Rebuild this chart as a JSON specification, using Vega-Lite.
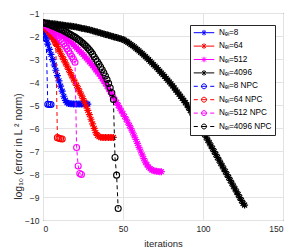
{
"$schema": "https://vega.github.io/schema/vega-lite/v6.json",
"autosize": {"type": "none"},
"width": 240, "height": 207,
"padding": {"left": 43, "top": 13, "right": 16, "bottom": 29},
"background": "white",
"config": {
  "view": {"stroke": "#262626", "strokeWidth": 1},
  "font": "Liberation Sans",
  "axis": {"grid": true, "gridColor": "#e3e3e3", "ticks": false, "domain": false, "labelFontSize": 8.5, "labelColor": "#262626", "labelPadding": 4, "titleFontSize": 9.5, "titleFontWeight": "normal", "titleColor": "#262626", "labelFont": "Liberation Sans", "titleFont": "Liberation Sans"}
},
"data": {"values": [
{"s":"8","it":0,"e":-1.68},{"s":"8","it":1,"e":-1.9},{"s":"8","it":2,"e":-2.12},{"s":"8","it":3,"e":-2.35},{"s":"8","it":4,"e":-2.58},{"s":"8","it":5,"e":-2.8},{"s":"8","it":6,"e":-3.03},{"s":"8","it":7,"e":-3.26},{"s":"8","it":8,"e":-3.49},{"s":"8","it":9,"e":-3.72},{"s":"8","it":10,"e":-3.95},{"s":"8","it":11,"e":-4.18},{"s":"8","it":12,"e":-4.4},{"s":"8","it":13,"e":-4.62},{"s":"8","it":14,"e":-4.8},{"s":"8","it":15,"e":-4.9},{"s":"8","it":16,"e":-4.94},{"s":"8","it":17,"e":-4.95},{"s":"8","it":18,"e":-4.95},{"s":"8","it":19,"e":-4.96},{"s":"8","it":20,"e":-4.96},{"s":"8","it":21,"e":-4.96},{"s":"8","it":22,"e":-4.96},{"s":"8","it":23,"e":-4.96},{"s":"8","it":24,"e":-4.96},{"s":"8","it":25,"e":-4.96},{"s":"8","it":26,"e":-4.96},{"s":"8","it":27,"e":-4.96},{"s":"8","it":28,"e":-4.96},
{"s":"64","it":0,"e":-1.54},{"s":"64","it":1,"e":-1.6},{"s":"64","it":2,"e":-1.67},{"s":"64","it":3,"e":-1.75},{"s":"64","it":4,"e":-1.84},{"s":"64","it":5,"e":-1.93},{"s":"64","it":6,"e":-2.03},{"s":"64","it":7,"e":-2.15},{"s":"64","it":8,"e":-2.3},{"s":"64","it":9,"e":-2.45},{"s":"64","it":10,"e":-2.6},{"s":"64","it":11,"e":-2.75},{"s":"64","it":12,"e":-2.9},{"s":"64","it":13,"e":-3.03},{"s":"64","it":14,"e":-3.17},{"s":"64","it":15,"e":-3.31},{"s":"64","it":16,"e":-3.45},{"s":"64","it":17,"e":-3.59},{"s":"64","it":18,"e":-3.73},{"s":"64","it":19,"e":-3.87},{"s":"64","it":20,"e":-4.01},{"s":"64","it":21,"e":-4.15},{"s":"64","it":22,"e":-4.29},{"s":"64","it":23,"e":-4.43},{"s":"64","it":24,"e":-4.57},{"s":"64","it":25,"e":-4.72},{"s":"64","it":26,"e":-4.88},{"s":"64","it":27,"e":-5.05},{"s":"64","it":28,"e":-5.23},{"s":"64","it":29,"e":-5.42},{"s":"64","it":30,"e":-5.62},{"s":"64","it":31,"e":-5.82},{"s":"64","it":32,"e":-6.02},{"s":"64","it":33,"e":-6.2},{"s":"64","it":34,"e":-6.32},{"s":"64","it":35,"e":-6.38},{"s":"64","it":36,"e":-6.4},{"s":"64","it":37,"e":-6.41},{"s":"64","it":38,"e":-6.41},{"s":"64","it":39,"e":-6.41},{"s":"64","it":40,"e":-6.41},{"s":"64","it":41,"e":-6.41},{"s":"64","it":42,"e":-6.41},{"s":"64","it":43,"e":-6.41},{"s":"64","it":44,"e":-6.41},
{"s":"512","it":0,"e":-1.46},{"s":"512","it":1,"e":-1.49},{"s":"512","it":2,"e":-1.52},{"s":"512","it":3,"e":-1.56},{"s":"512","it":4,"e":-1.6},{"s":"512","it":5,"e":-1.64},{"s":"512","it":6,"e":-1.68},{"s":"512","it":7,"e":-1.72},{"s":"512","it":8,"e":-1.77},{"s":"512","it":9,"e":-1.82},{"s":"512","it":10,"e":-1.87},{"s":"512","it":11,"e":-1.92},{"s":"512","it":12,"e":-1.97},{"s":"512","it":13,"e":-2.02},{"s":"512","it":14,"e":-2.07},{"s":"512","it":15,"e":-2.13},{"s":"512","it":16,"e":-2.19},{"s":"512","it":17,"e":-2.25},{"s":"512","it":18,"e":-2.31},{"s":"512","it":19,"e":-2.38},{"s":"512","it":20,"e":-2.45},{"s":"512","it":21,"e":-2.52},{"s":"512","it":22,"e":-2.59},{"s":"512","it":23,"e":-2.66},{"s":"512","it":24,"e":-2.73},{"s":"512","it":25,"e":-2.8},{"s":"512","it":26,"e":-2.88},{"s":"512","it":27,"e":-2.96},{"s":"512","it":28,"e":-3.04},{"s":"512","it":29,"e":-3.12},{"s":"512","it":30,"e":-3.2},{"s":"512","it":31,"e":-3.29},{"s":"512","it":32,"e":-3.38},{"s":"512","it":33,"e":-3.47},{"s":"512","it":34,"e":-3.56},{"s":"512","it":35,"e":-3.65},{"s":"512","it":36,"e":-3.75},{"s":"512","it":37,"e":-3.85},{"s":"512","it":38,"e":-3.96},{"s":"512","it":39,"e":-4.07},{"s":"512","it":40,"e":-4.18},{"s":"512","it":41,"e":-4.3},{"s":"512","it":42,"e":-4.42},{"s":"512","it":43,"e":-4.54},{"s":"512","it":44,"e":-4.66},{"s":"512","it":45,"e":-4.78},{"s":"512","it":46,"e":-4.9},{"s":"512","it":47,"e":-5.02},{"s":"512","it":48,"e":-5.14},{"s":"512","it":49,"e":-5.26},{"s":"512","it":50,"e":-5.38},{"s":"512","it":51,"e":-5.5},{"s":"512","it":52,"e":-5.62},{"s":"512","it":53,"e":-5.75},{"s":"512","it":54,"e":-5.89},{"s":"512","it":55,"e":-6.03},{"s":"512","it":56,"e":-6.18},{"s":"512","it":57,"e":-6.34},{"s":"512","it":58,"e":-6.5},{"s":"512","it":59,"e":-6.67},{"s":"512","it":60,"e":-6.84},{"s":"512","it":61,"e":-7.0},{"s":"512","it":62,"e":-7.17},{"s":"512","it":63,"e":-7.33},{"s":"512","it":64,"e":-7.48},{"s":"512","it":65,"e":-7.6},{"s":"512","it":66,"e":-7.7},{"s":"512","it":67,"e":-7.77},{"s":"512","it":68,"e":-7.82},{"s":"512","it":69,"e":-7.85},{"s":"512","it":70,"e":-7.87},{"s":"512","it":71,"e":-7.88},{"s":"512","it":72,"e":-7.89},{"s":"512","it":73,"e":-7.9},{"s":"512","it":74,"e":-7.9},
{"s":"4096","it":0,"e":-1.42},{"s":"4096","it":1,"e":-1.43},{"s":"4096","it":2,"e":-1.43},{"s":"4096","it":3,"e":-1.44},{"s":"4096","it":4,"e":-1.45},{"s":"4096","it":5,"e":-1.46},{"s":"4096","it":6,"e":-1.47},{"s":"4096","it":7,"e":-1.47},{"s":"4096","it":8,"e":-1.48},{"s":"4096","it":9,"e":-1.49},{"s":"4096","it":10,"e":-1.5},{"s":"4096","it":11,"e":-1.51},{"s":"4096","it":12,"e":-1.52},{"s":"4096","it":13,"e":-1.53},{"s":"4096","it":14,"e":-1.54},{"s":"4096","it":15,"e":-1.55},{"s":"4096","it":16,"e":-1.56},{"s":"4096","it":17,"e":-1.57},{"s":"4096","it":18,"e":-1.58},{"s":"4096","it":19,"e":-1.59},{"s":"4096","it":20,"e":-1.6},{"s":"4096","it":21,"e":-1.61},{"s":"4096","it":22,"e":-1.63},{"s":"4096","it":23,"e":-1.64},{"s":"4096","it":24,"e":-1.66},{"s":"4096","it":25,"e":-1.67},{"s":"4096","it":26,"e":-1.69},{"s":"4096","it":27,"e":-1.7},{"s":"4096","it":28,"e":-1.72},{"s":"4096","it":29,"e":-1.73},{"s":"4096","it":30,"e":-1.75},{"s":"4096","it":31,"e":-1.77},{"s":"4096","it":32,"e":-1.79},{"s":"4096","it":33,"e":-1.81},{"s":"4096","it":34,"e":-1.83},{"s":"4096","it":35,"e":-1.85},{"s":"4096","it":36,"e":-1.87},{"s":"4096","it":37,"e":-1.89},{"s":"4096","it":38,"e":-1.91},{"s":"4096","it":39,"e":-1.93},{"s":"4096","it":40,"e":-1.95},{"s":"4096","it":41,"e":-1.97},{"s":"4096","it":42,"e":-1.99},{"s":"4096","it":43,"e":-2.01},{"s":"4096","it":44,"e":-2.03},{"s":"4096","it":45,"e":-2.05},{"s":"4096","it":46,"e":-2.07},{"s":"4096","it":47,"e":-2.09},{"s":"4096","it":48,"e":-2.11},{"s":"4096","it":49,"e":-2.13},{"s":"4096","it":50,"e":-2.15},{"s":"4096","it":51,"e":-2.19},{"s":"4096","it":52,"e":-2.23},{"s":"4096","it":53,"e":-2.27},{"s":"4096","it":54,"e":-2.32},{"s":"4096","it":55,"e":-2.37},{"s":"4096","it":56,"e":-2.42},{"s":"4096","it":57,"e":-2.47},{"s":"4096","it":58,"e":-2.53},{"s":"4096","it":59,"e":-2.59},{"s":"4096","it":60,"e":-2.65},{"s":"4096","it":61,"e":-2.71},{"s":"4096","it":62,"e":-2.77},{"s":"4096","it":63,"e":-2.83},{"s":"4096","it":64,"e":-2.9},{"s":"4096","it":65,"e":-2.96},{"s":"4096","it":66,"e":-3.03},{"s":"4096","it":67,"e":-3.1},{"s":"4096","it":68,"e":-3.17},{"s":"4096","it":69,"e":-3.24},{"s":"4096","it":70,"e":-3.31},{"s":"4096","it":71,"e":-3.38},{"s":"4096","it":72,"e":-3.46},{"s":"4096","it":73,"e":-3.53},{"s":"4096","it":74,"e":-3.61},{"s":"4096","it":75,"e":-3.68},{"s":"4096","it":76,"e":-3.76},{"s":"4096","it":77,"e":-3.84},{"s":"4096","it":78,"e":-3.92},{"s":"4096","it":79,"e":-4.0},{"s":"4096","it":80,"e":-4.08},{"s":"4096","it":81,"e":-4.17},{"s":"4096","it":82,"e":-4.26},{"s":"4096","it":83,"e":-4.35},{"s":"4096","it":84,"e":-4.44},{"s":"4096","it":85,"e":-4.53},{"s":"4096","it":86,"e":-4.62},{"s":"4096","it":87,"e":-4.71},{"s":"4096","it":88,"e":-4.8},{"s":"4096","it":89,"e":-4.9},{"s":"4096","it":90,"e":-5.0},{"s":"4096","it":91,"e":-5.11},{"s":"4096","it":92,"e":-5.23},{"s":"4096","it":93,"e":-5.34},{"s":"4096","it":94,"e":-5.46},{"s":"4096","it":95,"e":-5.57},{"s":"4096","it":96,"e":-5.69},{"s":"4096","it":97,"e":-5.8},{"s":"4096","it":98,"e":-5.92},{"s":"4096","it":99,"e":-6.03},{"s":"4096","it":100,"e":-6.15},{"s":"4096","it":101,"e":-6.28},{"s":"4096","it":102,"e":-6.4},{"s":"4096","it":103,"e":-6.53},{"s":"4096","it":104,"e":-6.65},{"s":"4096","it":105,"e":-6.78},{"s":"4096","it":106,"e":-6.9},{"s":"4096","it":107,"e":-7.03},{"s":"4096","it":108,"e":-7.15},{"s":"4096","it":109,"e":-7.28},{"s":"4096","it":110,"e":-7.4},{"s":"4096","it":111,"e":-7.53},{"s":"4096","it":112,"e":-7.65},{"s":"4096","it":113,"e":-7.78},{"s":"4096","it":114,"e":-7.9},{"s":"4096","it":115,"e":-8.03},{"s":"4096","it":116,"e":-8.15},{"s":"4096","it":117,"e":-8.28},{"s":"4096","it":118,"e":-8.4},{"s":"4096","it":119,"e":-8.53},{"s":"4096","it":120,"e":-8.65},{"s":"4096","it":121,"e":-8.78},{"s":"4096","it":122,"e":-8.9},{"s":"4096","it":123,"e":-9.03},{"s":"4096","it":124,"e":-9.15},{"s":"4096","it":125,"e":-9.28},{"s":"4096","it":126,"e":-9.35},
{"s":"8 NPC","it":0,"e":-1.68},{"s":"8 NPC","it":1,"e":-1.9},{"s":"8 NPC","it":2,"e":-2.12},{"s":"8 NPC","it":3,"e":-4.97},{"s":"8 NPC","it":4,"e":-4.98},{"s":"8 NPC","it":5,"e":-4.98},
{"s":"64 NPC","it":0,"e":-1.54},{"s":"64 NPC","it":1,"e":-1.6},{"s":"64 NPC","it":2,"e":-1.67},{"s":"64 NPC","it":3,"e":-1.75},{"s":"64 NPC","it":4,"e":-1.84},{"s":"64 NPC","it":5,"e":-1.93},{"s":"64 NPC","it":6,"e":-2.03},{"s":"64 NPC","it":7,"e":-2.15},{"s":"64 NPC","it":8,"e":-2.3},{"s":"64 NPC","it":9,"e":-6.42},{"s":"64 NPC","it":10,"e":-6.45},{"s":"64 NPC","it":11,"e":-6.47},{"s":"64 NPC","it":12,"e":-6.48},
{"s":"512 NPC","it":0,"e":-1.46},{"s":"512 NPC","it":1,"e":-1.5},{"s":"512 NPC","it":2,"e":-1.55},{"s":"512 NPC","it":3,"e":-1.6},{"s":"512 NPC","it":4,"e":-1.66},{"s":"512 NPC","it":5,"e":-1.72},{"s":"512 NPC","it":6,"e":-1.78},{"s":"512 NPC","it":7,"e":-1.85},{"s":"512 NPC","it":8,"e":-1.92},{"s":"512 NPC","it":9,"e":-1.99},{"s":"512 NPC","it":10,"e":-2.07},{"s":"512 NPC","it":11,"e":-2.15},{"s":"512 NPC","it":12,"e":-2.24},{"s":"512 NPC","it":13,"e":-2.34},{"s":"512 NPC","it":14,"e":-2.44},{"s":"512 NPC","it":15,"e":-2.55},{"s":"512 NPC","it":16,"e":-2.65},{"s":"512 NPC","it":17,"e":-2.77},{"s":"512 NPC","it":18,"e":-2.89},{"s":"512 NPC","it":19,"e":-3.01},{"s":"512 NPC","it":20,"e":-3.14},{"s":"512 NPC","it":21,"e":-6.85},{"s":"512 NPC","it":22,"e":-7.65},{"s":"512 NPC","it":23,"e":-7.98},{"s":"512 NPC","it":24,"e":-8.02},
{"s":"4096 NPC","it":0,"e":-1.42},{"s":"4096 NPC","it":1,"e":-1.44},{"s":"4096 NPC","it":2,"e":-1.46},{"s":"4096 NPC","it":3,"e":-1.48},{"s":"4096 NPC","it":4,"e":-1.5},{"s":"4096 NPC","it":5,"e":-1.53},{"s":"4096 NPC","it":6,"e":-1.56},{"s":"4096 NPC","it":7,"e":-1.59},{"s":"4096 NPC","it":8,"e":-1.62},{"s":"4096 NPC","it":9,"e":-1.65},{"s":"4096 NPC","it":10,"e":-1.68},{"s":"4096 NPC","it":11,"e":-1.71},{"s":"4096 NPC","it":12,"e":-1.74},{"s":"4096 NPC","it":13,"e":-1.77},{"s":"4096 NPC","it":14,"e":-1.81},{"s":"4096 NPC","it":15,"e":-1.85},{"s":"4096 NPC","it":16,"e":-1.89},{"s":"4096 NPC","it":17,"e":-1.93},{"s":"4096 NPC","it":18,"e":-1.97},{"s":"4096 NPC","it":19,"e":-2.01},{"s":"4096 NPC","it":20,"e":-2.05},{"s":"4096 NPC","it":21,"e":-2.1},{"s":"4096 NPC","it":22,"e":-2.15},{"s":"4096 NPC","it":23,"e":-2.2},{"s":"4096 NPC","it":24,"e":-2.26},{"s":"4096 NPC","it":25,"e":-2.32},{"s":"4096 NPC","it":26,"e":-2.38},{"s":"4096 NPC","it":27,"e":-2.45},{"s":"4096 NPC","it":28,"e":-2.52},{"s":"4096 NPC","it":29,"e":-2.6},{"s":"4096 NPC","it":30,"e":-2.69},{"s":"4096 NPC","it":31,"e":-2.79},{"s":"4096 NPC","it":32,"e":-2.9},{"s":"4096 NPC","it":33,"e":-3.01},{"s":"4096 NPC","it":34,"e":-3.12},{"s":"4096 NPC","it":35,"e":-3.23},{"s":"4096 NPC","it":36,"e":-3.35},{"s":"4096 NPC","it":37,"e":-3.47},{"s":"4096 NPC","it":38,"e":-3.6},{"s":"4096 NPC","it":39,"e":-3.74},{"s":"4096 NPC","it":40,"e":-3.89},{"s":"4096 NPC","it":41,"e":-4.06},{"s":"4096 NPC","it":42,"e":-4.25},{"s":"4096 NPC","it":43,"e":-4.47},{"s":"4096 NPC","it":44,"e":-4.76},{"s":"4096 NPC","it":45,"e":-7.28},{"s":"4096 NPC","it":46,"e":-8.05},{"s":"4096 NPC","it":47,"e":-9.5}
]},
"encoding": {
  "x": {"field": "it", "type": "quantitative", "scale": {"domain": [0, 150], "nice": false}, "axis": {"values": [0, 50, 100, 150], "title": "iterations", "titleY": 23, "titleBaseline": "middle"}},
  "y": {"field": "e", "type": "quantitative", "scale": {"domain": [-10, -1], "nice": false}, "axis": {"values": [-10, -9, -8, -7, -6, -5, -4, -3, -2, -1], "title": "log\u2081\u2080 (error in L  \u00b2  norm)", "titleFontSize": 10.5, "titleX": -25, "titleY": 133, "titleAlign": "center", "titleBaseline": "middle"}}
},
"resolve": {"legend": {"color": "independent", "shape": "independent"}},
"layer": [
  {"transform": [{"filter": "indexof(datum.s, 'NPC') < 0"}],
   "mark": {"type": "line", "strokeWidth": 1, "clip": true},
   "encoding": {"color": {"field": "s", "type": "nominal", "legend": null,
     "scale": {"domain": ["8", "64", "512", "4096", "8 NPC", "64 NPC", "512 NPC", "4096 NPC"], "range": ["#0000ff", "#ff0000", "#ff00ff", "#000000", "#0000ff", "#ff0000", "#ff00ff", "#000000"]}}}},
  {"transform": [{"filter": "indexof(datum.s, 'NPC') < 0"}],
   "mark": {"type": "point", "filled": false, "strokeWidth": 1.2, "size": 49, "opacity": 1, "clip": true, "shape": "M-1,0H1M0,-1V1M-0.7,-0.7L0.7,0.7M-0.7,0.7L0.7,-0.7"},
   "encoding": {"color": {"field": "s", "type": "nominal", "legend": null}}},
  {"transform": [{"filter": "indexof(datum.s, 'NPC') >= 0"}],
   "mark": {"type": "line", "strokeWidth": 1, "strokeDash": [4, 3], "clip": true},
   "encoding": {"color": {"field": "s", "type": "nominal", "legend": null}}},
  {"transform": [{"filter": "indexof(datum.s, 'NPC') >= 0"}],
   "mark": {"type": "point", "filled": false, "strokeWidth": 1.1, "size": 36, "opacity": 1, "clip": true, "shape": "circle"},
   "encoding": {"color": {"field": "s", "type": "nominal", "legend": null}}},
  {"mark": {"type": "point", "filled": false, "strokeWidth": 1, "size": 424, "opacity": 0, "clip": true},
   "encoding": {
     "color": {"field": "s", "type": "nominal",
       "legend": {"title": null, "orient": "none", "legendX": 147, "legendY": 12, "padding": 3, "fillColor": "white", "strokeColor": "#262626", "cornerRadius": 0,
         "labelFont": "Liberation Sans", "labelFontSize": 8.2, "labelColor": "#000000", "labelOffset": 4, "rowPadding": 2.4, "clipHeight": 9.4, "symbolSize": 424, "symbolOpacity": 1, "symbolStrokeWidth": 1,
         "labelExpr": "'N\u2091\u2097=' + datum.label"}},
     "shape": {"field": "s", "type": "nominal",
       "legend": {"title": null, "orient": "none", "legendX": 147, "legendY": 12, "padding": 3, "fillColor": "white", "strokeColor": "#262626", "cornerRadius": 0,
         "labelFont": "Liberation Sans", "labelFontSize": 8.2, "labelColor": "#000000", "labelOffset": 4, "rowPadding": 2.4, "clipHeight": 9.4, "symbolSize": 424, "symbolOpacity": 1, "symbolStrokeWidth": 1,
         "labelExpr": "'N\u2091\u2097=' + datum.label"},
       "scale": {"domain": ["8", "64", "512", "4096", "8 NPC", "64 NPC", "512 NPC", "4096 NPC"], "range": [
         "M-1,0H1M0,-0.27V0.27M-0.19,-0.19L0.19,0.19M-0.19,0.19L0.19,-0.19",
         "M-1,0H1M0,-0.27V0.27M-0.19,-0.19L0.19,0.19M-0.19,0.19L0.19,-0.19",
         "M-1,0H1M0,-0.27V0.27M-0.19,-0.19L0.19,0.19M-0.19,0.19L0.19,-0.19",
         "M-1,0H1M0,-0.27V0.27M-0.19,-0.19L0.19,0.19M-0.19,0.19L0.19,-0.19",
         "M-1,0H-0.6M-0.3,0H0.3M0.6,0H1M0.24,0A0.24,0.24 0 1 1 -0.24,0A0.24,0.24 0 1 1 0.24,0",
         "M-1,0H-0.6M-0.3,0H0.3M0.6,0H1M0.24,0A0.24,0.24 0 1 1 -0.24,0A0.24,0.24 0 1 1 0.24,0",
         "M-1,0H-0.6M-0.3,0H0.3M0.6,0H1M0.24,0A0.24,0.24 0 1 1 -0.24,0A0.24,0.24 0 1 1 0.24,0",
         "M-1,0H-0.6M-0.3,0H0.3M0.6,0H1M0.24,0A0.24,0.24 0 1 1 -0.24,0A0.24,0.24 0 1 1 0.24,0"]}}
   }}
]
}
